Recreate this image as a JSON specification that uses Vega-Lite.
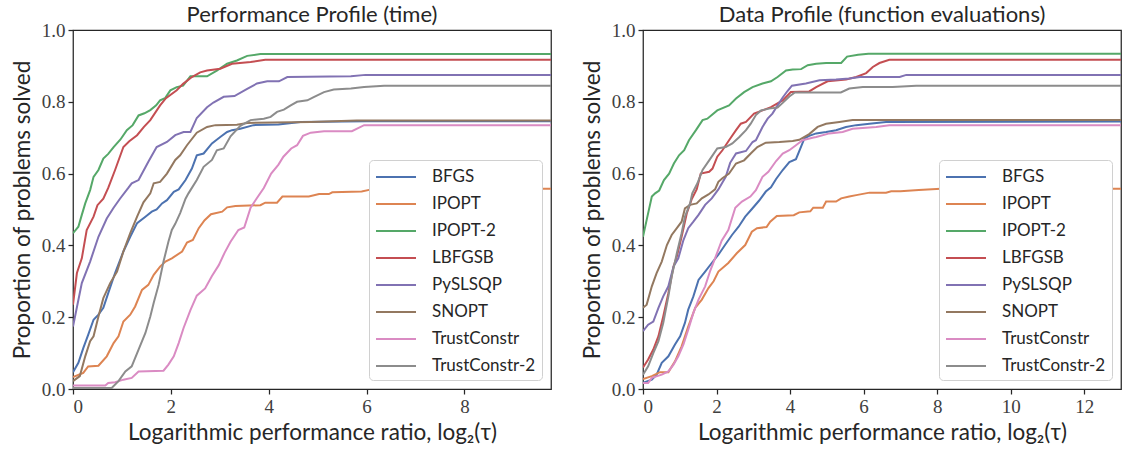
{
"$schema": "https://vega.github.io/schema/vega-lite/v6.json",
"padding": {"left": 10, "top": 3, "right": 4, "bottom": 2},
"background": "white",
"datasets": {
"time": [
{"s":"BFGS","x":0,"y":0.047},{"s":"BFGS","x":0.11,"y":0.073},{"s":"BFGS","x":0.21,"y":0.114},{"s":"BFGS","x":0.31,"y":0.151},{"s":"BFGS","x":0.42,"y":0.193},{"s":"BFGS","x":0.52,"y":0.207},{"s":"BFGS","x":0.62,"y":0.226},{"s":"BFGS","x":0.72,"y":0.267},{"s":"BFGS","x":0.86,"y":0.323},{"s":"BFGS","x":1.03,"y":0.383},{"s":"BFGS","x":1.17,"y":0.424},{"s":"BFGS","x":1.31,"y":0.462},{"s":"BFGS","x":1.48,"y":0.48},{"s":"BFGS","x":1.61,"y":0.494},{"s":"BFGS","x":1.71,"y":0.5},{"s":"BFGS","x":1.82,"y":0.517},{"s":"BFGS","x":1.92,"y":0.526},{"s":"BFGS","x":2.06,"y":0.549},{"s":"BFGS","x":2.16,"y":0.556},{"s":"BFGS","x":2.3,"y":0.582},{"s":"BFGS","x":2.43,"y":0.614},{"s":"BFGS","x":2.53,"y":0.651},{"s":"BFGS","x":2.67,"y":0.656},{"s":"BFGS","x":2.84,"y":0.684},{"s":"BFGS","x":3.01,"y":0.702},{"s":"BFGS","x":3.15,"y":0.716},{"s":"BFGS","x":3.25,"y":0.721},{"s":"BFGS","x":3.42,"y":0.725},{"s":"BFGS","x":3.69,"y":0.735},{"s":"BFGS","x":4.2,"y":0.737},{"s":"BFGS","x":4.65,"y":0.744},{"s":"BFGS","x":6.0,"y":0.746},{"s":"BFGS","x":9.77,"y":0.746},
{"s":"IPOPT","x":0,"y":0.033},{"s":"IPOPT","x":0.21,"y":0.045},{"s":"IPOPT","x":0.31,"y":0.063},{"s":"IPOPT","x":0.52,"y":0.065},{"s":"IPOPT","x":0.69,"y":0.091},{"s":"IPOPT","x":0.83,"y":0.128},{"s":"IPOPT","x":0.93,"y":0.147},{"s":"IPOPT","x":1.03,"y":0.188},{"s":"IPOPT","x":1.17,"y":0.207},{"s":"IPOPT","x":1.27,"y":0.23},{"s":"IPOPT","x":1.41,"y":0.276},{"s":"IPOPT","x":1.54,"y":0.29},{"s":"IPOPT","x":1.65,"y":0.318},{"s":"IPOPT","x":1.78,"y":0.341},{"s":"IPOPT","x":1.89,"y":0.355},{"s":"IPOPT","x":2.02,"y":0.364},{"s":"IPOPT","x":2.23,"y":0.383},{"s":"IPOPT","x":2.33,"y":0.408},{"s":"IPOPT","x":2.45,"y":0.415},{"s":"IPOPT","x":2.57,"y":0.448},{"s":"IPOPT","x":2.69,"y":0.47},{"s":"IPOPT","x":2.82,"y":0.487},{"s":"IPOPT","x":3.05,"y":0.494},{"s":"IPOPT","x":3.15,"y":0.506},{"s":"IPOPT","x":3.32,"y":0.51},{"s":"IPOPT","x":3.83,"y":0.512},{"s":"IPOPT","x":3.93,"y":0.519},{"s":"IPOPT","x":4.17,"y":0.519},{"s":"IPOPT","x":4.28,"y":0.536},{"s":"IPOPT","x":4.82,"y":0.536},{"s":"IPOPT","x":5.03,"y":0.543},{"s":"IPOPT","x":5.23,"y":0.543},{"s":"IPOPT","x":5.3,"y":0.548},{"s":"IPOPT","x":5.9,"y":0.55},{"s":"IPOPT","x":6.1,"y":0.556},{"s":"IPOPT","x":6.5,"y":0.558},{"s":"IPOPT","x":9.77,"y":0.558},
{"s":"IPOPT-2","x":0,"y":0.434},{"s":"IPOPT-2","x":0.11,"y":0.452},{"s":"IPOPT-2","x":0.18,"y":0.485},{"s":"IPOPT-2","x":0.25,"y":0.517},{"s":"IPOPT-2","x":0.35,"y":0.554},{"s":"IPOPT-2","x":0.42,"y":0.591},{"s":"IPOPT-2","x":0.52,"y":0.61},{"s":"IPOPT-2","x":0.62,"y":0.642},{"s":"IPOPT-2","x":0.72,"y":0.655},{"s":"IPOPT-2","x":0.83,"y":0.674},{"s":"IPOPT-2","x":0.97,"y":0.695},{"s":"IPOPT-2","x":1.1,"y":0.721},{"s":"IPOPT-2","x":1.22,"y":0.735},{"s":"IPOPT-2","x":1.34,"y":0.762},{"s":"IPOPT-2","x":1.46,"y":0.768},{"s":"IPOPT-2","x":1.58,"y":0.777},{"s":"IPOPT-2","x":1.7,"y":0.79},{"s":"IPOPT-2","x":1.78,"y":0.804},{"s":"IPOPT-2","x":1.88,"y":0.81},{"s":"IPOPT-2","x":1.99,"y":0.832},{"s":"IPOPT-2","x":2.12,"y":0.841},{"s":"IPOPT-2","x":2.25,"y":0.845},{"s":"IPOPT-2","x":2.4,"y":0.871},{"s":"IPOPT-2","x":2.74,"y":0.871},{"s":"IPOPT-2","x":2.94,"y":0.887},{"s":"IPOPT-2","x":3.15,"y":0.906},{"s":"IPOPT-2","x":3.35,"y":0.915},{"s":"IPOPT-2","x":3.56,"y":0.928},{"s":"IPOPT-2","x":3.83,"y":0.933},{"s":"IPOPT-2","x":9.77,"y":0.933},
{"s":"LBFGSB","x":0,"y":0.235},{"s":"LBFGSB","x":0.08,"y":0.323},{"s":"LBFGSB","x":0.18,"y":0.364},{"s":"LBFGSB","x":0.28,"y":0.443},{"s":"LBFGSB","x":0.42,"y":0.48},{"s":"LBFGSB","x":0.5,"y":0.512},{"s":"LBFGSB","x":0.62,"y":0.53},{"s":"LBFGSB","x":0.72,"y":0.56},{"s":"LBFGSB","x":0.86,"y":0.61},{"s":"LBFGSB","x":1.03,"y":0.674},{"s":"LBFGSB","x":1.15,"y":0.69},{"s":"LBFGSB","x":1.31,"y":0.707},{"s":"LBFGSB","x":1.45,"y":0.73},{"s":"LBFGSB","x":1.58,"y":0.749},{"s":"LBFGSB","x":1.78,"y":0.79},{"s":"LBFGSB","x":1.9,"y":0.81},{"s":"LBFGSB","x":2.12,"y":0.832},{"s":"LBFGSB","x":2.25,"y":0.85},{"s":"LBFGSB","x":2.43,"y":0.869},{"s":"LBFGSB","x":2.6,"y":0.882},{"s":"LBFGSB","x":2.74,"y":0.887},{"s":"LBFGSB","x":3.01,"y":0.892},{"s":"LBFGSB","x":3.25,"y":0.906},{"s":"LBFGSB","x":3.63,"y":0.911},{"s":"LBFGSB","x":3.93,"y":0.917},{"s":"LBFGSB","x":9.77,"y":0.917},
{"s":"PySLSQP","x":0,"y":0.174},{"s":"PySLSQP","x":0.18,"y":0.295},{"s":"PySLSQP","x":0.35,"y":0.355},{"s":"PySLSQP","x":0.52,"y":0.424},{"s":"PySLSQP","x":0.69,"y":0.475},{"s":"PySLSQP","x":0.83,"y":0.505},{"s":"PySLSQP","x":0.96,"y":0.53},{"s":"PySLSQP","x":1.13,"y":0.56},{"s":"PySLSQP","x":1.2,"y":0.573},{"s":"PySLSQP","x":1.34,"y":0.582},{"s":"PySLSQP","x":1.54,"y":0.633},{"s":"PySLSQP","x":1.71,"y":0.674},{"s":"PySLSQP","x":1.92,"y":0.688},{"s":"PySLSQP","x":2.09,"y":0.707},{"s":"PySLSQP","x":2.26,"y":0.716},{"s":"PySLSQP","x":2.4,"y":0.716},{"s":"PySLSQP","x":2.53,"y":0.755},{"s":"PySLSQP","x":2.74,"y":0.785},{"s":"PySLSQP","x":2.87,"y":0.798},{"s":"PySLSQP","x":3.08,"y":0.814},{"s":"PySLSQP","x":3.3,"y":0.816},{"s":"PySLSQP","x":3.56,"y":0.836},{"s":"PySLSQP","x":3.76,"y":0.851},{"s":"PySLSQP","x":3.97,"y":0.857},{"s":"PySLSQP","x":4.21,"y":0.857},{"s":"PySLSQP","x":4.38,"y":0.869},{"s":"PySLSQP","x":5.68,"y":0.871},{"s":"PySLSQP","x":5.98,"y":0.875},{"s":"PySLSQP","x":9.77,"y":0.875},
{"s":"SNOPT","x":0,"y":0.022},{"s":"SNOPT","x":0.14,"y":0.036},{"s":"SNOPT","x":0.25,"y":0.091},{"s":"SNOPT","x":0.35,"y":0.133},{"s":"SNOPT","x":0.42,"y":0.147},{"s":"SNOPT","x":0.52,"y":0.202},{"s":"SNOPT","x":0.62,"y":0.253},{"s":"SNOPT","x":0.76,"y":0.295},{"s":"SNOPT","x":0.9,"y":0.327},{"s":"SNOPT","x":1.03,"y":0.383},{"s":"SNOPT","x":1.17,"y":0.434},{"s":"SNOPT","x":1.31,"y":0.48},{"s":"SNOPT","x":1.44,"y":0.52},{"s":"SNOPT","x":1.58,"y":0.545},{"s":"SNOPT","x":1.65,"y":0.573},{"s":"SNOPT","x":1.78,"y":0.577},{"s":"SNOPT","x":1.92,"y":0.6},{"s":"SNOPT","x":2.09,"y":0.638},{"s":"SNOPT","x":2.19,"y":0.651},{"s":"SNOPT","x":2.33,"y":0.679},{"s":"SNOPT","x":2.53,"y":0.714},{"s":"SNOPT","x":2.74,"y":0.73},{"s":"SNOPT","x":2.91,"y":0.735},{"s":"SNOPT","x":3.35,"y":0.736},{"s":"SNOPT","x":3.56,"y":0.741},{"s":"SNOPT","x":4.86,"y":0.744},{"s":"SNOPT","x":5.8,"y":0.748},{"s":"SNOPT","x":9.77,"y":0.748},
{"s":"TrustConstr","x":0,"y":0.01},{"s":"TrustConstr","x":0.66,"y":0.01},{"s":"TrustConstr","x":0.72,"y":0.017},{"s":"TrustConstr","x":0.86,"y":0.019},{"s":"TrustConstr","x":1.03,"y":0.026},{"s":"TrustConstr","x":1.2,"y":0.031},{"s":"TrustConstr","x":1.34,"y":0.049},{"s":"TrustConstr","x":1.85,"y":0.051},{"s":"TrustConstr","x":1.95,"y":0.068},{"s":"TrustConstr","x":2.06,"y":0.091},{"s":"TrustConstr","x":2.16,"y":0.128},{"s":"TrustConstr","x":2.26,"y":0.17},{"s":"TrustConstr","x":2.4,"y":0.22},{"s":"TrustConstr","x":2.53,"y":0.26},{"s":"TrustConstr","x":2.7,"y":0.28},{"s":"TrustConstr","x":2.84,"y":0.315},{"s":"TrustConstr","x":2.98,"y":0.345},{"s":"TrustConstr","x":3.1,"y":0.38},{"s":"TrustConstr","x":3.22,"y":0.41},{"s":"TrustConstr","x":3.38,"y":0.443},{"s":"TrustConstr","x":3.5,"y":0.45},{"s":"TrustConstr","x":3.63,"y":0.505},{"s":"TrustConstr","x":3.75,"y":0.53},{"s":"TrustConstr","x":3.9,"y":0.56},{"s":"TrustConstr","x":4.05,"y":0.6},{"s":"TrustConstr","x":4.2,"y":0.625},{"s":"TrustConstr","x":4.3,"y":0.647},{"s":"TrustConstr","x":4.46,"y":0.67},{"s":"TrustConstr","x":4.58,"y":0.679},{"s":"TrustConstr","x":4.7,"y":0.705},{"s":"TrustConstr","x":4.86,"y":0.714},{"s":"TrustConstr","x":5.13,"y":0.718},{"s":"TrustConstr","x":5.7,"y":0.718},{"s":"TrustConstr","x":5.95,"y":0.735},{"s":"TrustConstr","x":9.77,"y":0.735},
{"s":"TrustConstr-2","x":0,"y":0.003},{"s":"TrustConstr-2","x":0.79,"y":0.003},{"s":"TrustConstr-2","x":0.93,"y":0.022},{"s":"TrustConstr-2","x":1.07,"y":0.049},{"s":"TrustConstr-2","x":1.2,"y":0.063},{"s":"TrustConstr-2","x":1.34,"y":0.11},{"s":"TrustConstr-2","x":1.48,"y":0.156},{"s":"TrustConstr-2","x":1.58,"y":0.202},{"s":"TrustConstr-2","x":1.65,"y":0.24},{"s":"TrustConstr-2","x":1.75,"y":0.29},{"s":"TrustConstr-2","x":1.85,"y":0.355},{"s":"TrustConstr-2","x":1.95,"y":0.41},{"s":"TrustConstr-2","x":2.02,"y":0.443},{"s":"TrustConstr-2","x":2.09,"y":0.46},{"s":"TrustConstr-2","x":2.19,"y":0.49},{"s":"TrustConstr-2","x":2.3,"y":0.53},{"s":"TrustConstr-2","x":2.36,"y":0.545},{"s":"TrustConstr-2","x":2.53,"y":0.582},{"s":"TrustConstr-2","x":2.67,"y":0.619},{"s":"TrustConstr-2","x":2.84,"y":0.638},{"s":"TrustConstr-2","x":2.94,"y":0.665},{"s":"TrustConstr-2","x":3.08,"y":0.67},{"s":"TrustConstr-2","x":3.22,"y":0.704},{"s":"TrustConstr-2","x":3.42,"y":0.733},{"s":"TrustConstr-2","x":3.63,"y":0.749},{"s":"TrustConstr-2","x":3.9,"y":0.753},{"s":"TrustConstr-2","x":4.04,"y":0.758},{"s":"TrustConstr-2","x":4.17,"y":0.772},{"s":"TrustConstr-2","x":4.31,"y":0.778},{"s":"TrustConstr-2","x":4.45,"y":0.79},{"s":"TrustConstr-2","x":4.58,"y":0.8},{"s":"TrustConstr-2","x":4.79,"y":0.804},{"s":"TrustConstr-2","x":4.92,"y":0.813},{"s":"TrustConstr-2","x":5.13,"y":0.827},{"s":"TrustConstr-2","x":5.33,"y":0.834},{"s":"TrustConstr-2","x":5.68,"y":0.837},{"s":"TrustConstr-2","x":5.95,"y":0.841},{"s":"TrustConstr-2","x":6.36,"y":0.845},{"s":"TrustConstr-2","x":9.77,"y":0.845}
],
"evals": [
{"s":"BFGS","x":0,"y":0.017},{"s":"BFGS","x":0.24,"y":0.026},{"s":"BFGS","x":0.37,"y":0.04},{"s":"BFGS","x":0.51,"y":0.073},{"s":"BFGS","x":0.69,"y":0.091},{"s":"BFGS","x":0.87,"y":0.124},{"s":"BFGS","x":1.01,"y":0.147},{"s":"BFGS","x":1.14,"y":0.184},{"s":"BFGS","x":1.23,"y":0.221},{"s":"BFGS","x":1.37,"y":0.258},{"s":"BFGS","x":1.51,"y":0.304},{"s":"BFGS","x":1.69,"y":0.327},{"s":"BFGS","x":1.87,"y":0.351},{"s":"BFGS","x":2.05,"y":0.374},{"s":"BFGS","x":2.23,"y":0.401},{"s":"BFGS","x":2.42,"y":0.429},{"s":"BFGS","x":2.6,"y":0.452},{"s":"BFGS","x":2.78,"y":0.48},{"s":"BFGS","x":2.95,"y":0.5},{"s":"BFGS","x":3.16,"y":0.525},{"s":"BFGS","x":3.34,"y":0.55},{"s":"BFGS","x":3.48,"y":0.562},{"s":"BFGS","x":3.62,"y":0.585},{"s":"BFGS","x":3.8,"y":0.61},{"s":"BFGS","x":3.98,"y":0.632},{"s":"BFGS","x":4.16,"y":0.64},{"s":"BFGS","x":4.28,"y":0.67},{"s":"BFGS","x":4.39,"y":0.698},{"s":"BFGS","x":4.52,"y":0.705},{"s":"BFGS","x":4.71,"y":0.712},{"s":"BFGS","x":4.98,"y":0.716},{"s":"BFGS","x":5.25,"y":0.721},{"s":"BFGS","x":5.52,"y":0.73},{"s":"BFGS","x":5.8,"y":0.735},{"s":"BFGS","x":6.16,"y":0.739},{"s":"BFGS","x":6.61,"y":0.744},{"s":"BFGS","x":13,"y":0.745},
{"s":"IPOPT","x":0,"y":0.028},{"s":"IPOPT","x":0.24,"y":0.036},{"s":"IPOPT","x":0.46,"y":0.047},{"s":"IPOPT","x":0.69,"y":0.047},{"s":"IPOPT","x":0.87,"y":0.077},{"s":"IPOPT","x":1.05,"y":0.119},{"s":"IPOPT","x":1.23,"y":0.174},{"s":"IPOPT","x":1.42,"y":0.226},{"s":"IPOPT","x":1.6,"y":0.249},{"s":"IPOPT","x":1.78,"y":0.281},{"s":"IPOPT","x":1.92,"y":0.3},{"s":"IPOPT","x":2.05,"y":0.327},{"s":"IPOPT","x":2.32,"y":0.351},{"s":"IPOPT","x":2.55,"y":0.378},{"s":"IPOPT","x":2.78,"y":0.401},{"s":"IPOPT","x":2.96,"y":0.438},{"s":"IPOPT","x":3.1,"y":0.448},{"s":"IPOPT","x":3.36,"y":0.451},{"s":"IPOPT","x":3.46,"y":0.466},{"s":"IPOPT","x":3.64,"y":0.482},{"s":"IPOPT","x":4.1,"y":0.484},{"s":"IPOPT","x":4.25,"y":0.492},{"s":"IPOPT","x":4.55,"y":0.495},{"s":"IPOPT","x":4.63,"y":0.505},{"s":"IPOPT","x":4.89,"y":0.505},{"s":"IPOPT","x":4.98,"y":0.522},{"s":"IPOPT","x":5.25,"y":0.522},{"s":"IPOPT","x":5.39,"y":0.531},{"s":"IPOPT","x":5.61,"y":0.536},{"s":"IPOPT","x":5.8,"y":0.54},{"s":"IPOPT","x":6.16,"y":0.547},{"s":"IPOPT","x":6.61,"y":0.547},{"s":"IPOPT","x":6.75,"y":0.551},{"s":"IPOPT","x":7.0,"y":0.551},{"s":"IPOPT","x":7.5,"y":0.554},{"s":"IPOPT","x":8.1,"y":0.558},{"s":"IPOPT","x":13,"y":0.558},
{"s":"IPOPT-2","x":0,"y":0.424},{"s":"IPOPT-2","x":0.1,"y":0.471},{"s":"IPOPT-2","x":0.24,"y":0.536},{"s":"IPOPT-2","x":0.33,"y":0.545},{"s":"IPOPT-2","x":0.44,"y":0.553},{"s":"IPOPT-2","x":0.57,"y":0.582},{"s":"IPOPT-2","x":0.71,"y":0.6},{"s":"IPOPT-2","x":0.84,"y":0.628},{"s":"IPOPT-2","x":0.98,"y":0.651},{"s":"IPOPT-2","x":1.12,"y":0.665},{"s":"IPOPT-2","x":1.25,"y":0.693},{"s":"IPOPT-2","x":1.44,"y":0.721},{"s":"IPOPT-2","x":1.62,"y":0.749},{"s":"IPOPT-2","x":1.75,"y":0.753},{"s":"IPOPT-2","x":2.02,"y":0.776},{"s":"IPOPT-2","x":2.34,"y":0.79},{"s":"IPOPT-2","x":2.53,"y":0.809},{"s":"IPOPT-2","x":2.75,"y":0.827},{"s":"IPOPT-2","x":2.98,"y":0.841},{"s":"IPOPT-2","x":3.25,"y":0.851},{"s":"IPOPT-2","x":3.48,"y":0.857},{"s":"IPOPT-2","x":3.66,"y":0.869},{"s":"IPOPT-2","x":3.89,"y":0.887},{"s":"IPOPT-2","x":4.07,"y":0.89},{"s":"IPOPT-2","x":4.3,"y":0.891},{"s":"IPOPT-2","x":4.48,"y":0.902},{"s":"IPOPT-2","x":4.71,"y":0.906},{"s":"IPOPT-2","x":4.98,"y":0.908},{"s":"IPOPT-2","x":5.39,"y":0.908},{"s":"IPOPT-2","x":5.55,"y":0.926},{"s":"IPOPT-2","x":5.85,"y":0.931},{"s":"IPOPT-2","x":6.13,"y":0.934},{"s":"IPOPT-2","x":13,"y":0.934},
{"s":"LBFGSB","x":0,"y":0.06},{"s":"LBFGSB","x":0.14,"y":0.082},{"s":"LBFGSB","x":0.28,"y":0.11},{"s":"LBFGSB","x":0.42,"y":0.147},{"s":"LBFGSB","x":0.55,"y":0.202},{"s":"LBFGSB","x":0.69,"y":0.267},{"s":"LBFGSB","x":0.83,"y":0.341},{"s":"LBFGSB","x":0.92,"y":0.369},{"s":"LBFGSB","x":1.05,"y":0.424},{"s":"LBFGSB","x":1.19,"y":0.489},{"s":"LBFGSB","x":1.33,"y":0.53},{"s":"LBFGSB","x":1.46,"y":0.556},{"s":"LBFGSB","x":1.57,"y":0.6},{"s":"LBFGSB","x":1.8,"y":0.605},{"s":"LBFGSB","x":1.89,"y":0.614},{"s":"LBFGSB","x":2.02,"y":0.647},{"s":"LBFGSB","x":2.16,"y":0.665},{"s":"LBFGSB","x":2.34,"y":0.693},{"s":"LBFGSB","x":2.53,"y":0.721},{"s":"LBFGSB","x":2.66,"y":0.739},{"s":"LBFGSB","x":2.8,"y":0.744},{"s":"LBFGSB","x":3.02,"y":0.767},{"s":"LBFGSB","x":3.25,"y":0.776},{"s":"LBFGSB","x":3.48,"y":0.785},{"s":"LBFGSB","x":3.8,"y":0.804},{"s":"LBFGSB","x":4.02,"y":0.827},{"s":"LBFGSB","x":4.52,"y":0.829},{"s":"LBFGSB","x":4.71,"y":0.841},{"s":"LBFGSB","x":5.02,"y":0.857},{"s":"LBFGSB","x":5.52,"y":0.862},{"s":"LBFGSB","x":5.8,"y":0.869},{"s":"LBFGSB","x":6.07,"y":0.88},{"s":"LBFGSB","x":6.25,"y":0.897},{"s":"LBFGSB","x":6.43,"y":0.908},{"s":"LBFGSB","x":6.7,"y":0.917},{"s":"LBFGSB","x":13,"y":0.917},
{"s":"PySLSQP","x":0,"y":0.161},{"s":"PySLSQP","x":0.14,"y":0.179},{"s":"PySLSQP","x":0.28,"y":0.188},{"s":"PySLSQP","x":0.42,"y":0.226},{"s":"PySLSQP","x":0.55,"y":0.258},{"s":"PySLSQP","x":0.69,"y":0.286},{"s":"PySLSQP","x":0.83,"y":0.341},{"s":"PySLSQP","x":0.96,"y":0.364},{"s":"PySLSQP","x":1.1,"y":0.415},{"s":"PySLSQP","x":1.23,"y":0.448},{"s":"PySLSQP","x":1.37,"y":0.466},{"s":"PySLSQP","x":1.51,"y":0.485},{"s":"PySLSQP","x":1.69,"y":0.513},{"s":"PySLSQP","x":1.87,"y":0.531},{"s":"PySLSQP","x":2.05,"y":0.556},{"s":"PySLSQP","x":2.16,"y":0.575},{"s":"PySLSQP","x":2.25,"y":0.591},{"s":"PySLSQP","x":2.37,"y":0.63},{"s":"PySLSQP","x":2.53,"y":0.656},{"s":"PySLSQP","x":2.8,"y":0.663},{"s":"PySLSQP","x":2.98,"y":0.688},{"s":"PySLSQP","x":3.07,"y":0.693},{"s":"PySLSQP","x":3.25,"y":0.73},{"s":"PySLSQP","x":3.39,"y":0.753},{"s":"PySLSQP","x":3.52,"y":0.767},{"s":"PySLSQP","x":3.66,"y":0.79},{"s":"PySLSQP","x":3.8,"y":0.812},{"s":"PySLSQP","x":3.93,"y":0.83},{"s":"PySLSQP","x":4.05,"y":0.845},{"s":"PySLSQP","x":4.43,"y":0.851},{"s":"PySLSQP","x":4.8,"y":0.86},{"s":"PySLSQP","x":5.25,"y":0.862},{"s":"PySLSQP","x":5.61,"y":0.865},{"s":"PySLSQP","x":5.9,"y":0.869},{"s":"PySLSQP","x":6.98,"y":0.869},{"s":"PySLSQP","x":7.16,"y":0.875},{"s":"PySLSQP","x":13,"y":0.875},
{"s":"SNOPT","x":0,"y":0.226},{"s":"SNOPT","x":0.1,"y":0.235},{"s":"SNOPT","x":0.24,"y":0.286},{"s":"SNOPT","x":0.37,"y":0.323},{"s":"SNOPT","x":0.51,"y":0.355},{"s":"SNOPT","x":0.65,"y":0.401},{"s":"SNOPT","x":0.78,"y":0.429},{"s":"SNOPT","x":0.92,"y":0.448},{"s":"SNOPT","x":1.05,"y":0.466},{"s":"SNOPT","x":1.14,"y":0.503},{"s":"SNOPT","x":1.28,"y":0.513},{"s":"SNOPT","x":1.46,"y":0.517},{"s":"SNOPT","x":1.6,"y":0.531},{"s":"SNOPT","x":1.78,"y":0.542},{"s":"SNOPT","x":1.96,"y":0.556},{"s":"SNOPT","x":2.05,"y":0.577},{"s":"SNOPT","x":2.16,"y":0.587},{"s":"SNOPT","x":2.34,"y":0.6},{"s":"SNOPT","x":2.53,"y":0.628},{"s":"SNOPT","x":2.75,"y":0.637},{"s":"SNOPT","x":2.93,"y":0.656},{"s":"SNOPT","x":3.11,"y":0.674},{"s":"SNOPT","x":3.34,"y":0.686},{"s":"SNOPT","x":3.71,"y":0.688},{"s":"SNOPT","x":4.07,"y":0.691},{"s":"SNOPT","x":4.25,"y":0.694},{"s":"SNOPT","x":4.52,"y":0.71},{"s":"SNOPT","x":4.75,"y":0.73},{"s":"SNOPT","x":4.98,"y":0.739},{"s":"SNOPT","x":5.34,"y":0.744},{"s":"SNOPT","x":5.7,"y":0.749},{"s":"SNOPT","x":13,"y":0.749},
{"s":"TrustConstr","x":0,"y":0.017},{"s":"TrustConstr","x":0.14,"y":0.017},{"s":"TrustConstr","x":0.24,"y":0.031},{"s":"TrustConstr","x":0.51,"y":0.04},{"s":"TrustConstr","x":0.69,"y":0.049},{"s":"TrustConstr","x":0.83,"y":0.068},{"s":"TrustConstr","x":0.96,"y":0.091},{"s":"TrustConstr","x":1.1,"y":0.124},{"s":"TrustConstr","x":1.23,"y":0.165},{"s":"TrustConstr","x":1.37,"y":0.212},{"s":"TrustConstr","x":1.51,"y":0.249},{"s":"TrustConstr","x":1.69,"y":0.286},{"s":"TrustConstr","x":1.83,"y":0.33},{"s":"TrustConstr","x":1.96,"y":0.364},{"s":"TrustConstr","x":2.14,"y":0.413},{"s":"TrustConstr","x":2.32,"y":0.443},{"s":"TrustConstr","x":2.51,"y":0.505},{"s":"TrustConstr","x":2.69,"y":0.522},{"s":"TrustConstr","x":2.92,"y":0.536},{"s":"TrustConstr","x":3.07,"y":0.554},{"s":"TrustConstr","x":3.25,"y":0.591},{"s":"TrustConstr","x":3.41,"y":0.605},{"s":"TrustConstr","x":3.62,"y":0.635},{"s":"TrustConstr","x":3.8,"y":0.656},{"s":"TrustConstr","x":3.98,"y":0.665},{"s":"TrustConstr","x":4.16,"y":0.679},{"s":"TrustConstr","x":4.34,"y":0.693},{"s":"TrustConstr","x":4.61,"y":0.7},{"s":"TrustConstr","x":4.71,"y":0.702},{"s":"TrustConstr","x":5.07,"y":0.712},{"s":"TrustConstr","x":5.43,"y":0.716},{"s":"TrustConstr","x":5.7,"y":0.725},{"s":"TrustConstr","x":6.34,"y":0.73},{"s":"TrustConstr","x":6.7,"y":0.735},{"s":"TrustConstr","x":13,"y":0.735},
{"s":"TrustConstr-2","x":0,"y":0.04},{"s":"TrustConstr-2","x":0.14,"y":0.063},{"s":"TrustConstr-2","x":0.28,"y":0.1},{"s":"TrustConstr-2","x":0.42,"y":0.133},{"s":"TrustConstr-2","x":0.55,"y":0.184},{"s":"TrustConstr-2","x":0.69,"y":0.258},{"s":"TrustConstr-2","x":0.78,"y":0.313},{"s":"TrustConstr-2","x":0.92,"y":0.378},{"s":"TrustConstr-2","x":1.05,"y":0.434},{"s":"TrustConstr-2","x":1.14,"y":0.48},{"s":"TrustConstr-2","x":1.28,"y":0.517},{"s":"TrustConstr-2","x":1.34,"y":0.545},{"s":"TrustConstr-2","x":1.48,"y":0.573},{"s":"TrustConstr-2","x":1.62,"y":0.61},{"s":"TrustConstr-2","x":1.8,"y":0.637},{"s":"TrustConstr-2","x":2.02,"y":0.67},{"s":"TrustConstr-2","x":2.25,"y":0.674},{"s":"TrustConstr-2","x":2.43,"y":0.684},{"s":"TrustConstr-2","x":2.62,"y":0.702},{"s":"TrustConstr-2","x":2.8,"y":0.721},{"s":"TrustConstr-2","x":2.93,"y":0.739},{"s":"TrustConstr-2","x":3.07,"y":0.763},{"s":"TrustConstr-2","x":3.21,"y":0.776},{"s":"TrustConstr-2","x":3.43,"y":0.781},{"s":"TrustConstr-2","x":3.66,"y":0.784},{"s":"TrustConstr-2","x":3.8,"y":0.797},{"s":"TrustConstr-2","x":3.98,"y":0.815},{"s":"TrustConstr-2","x":4.13,"y":0.826},{"s":"TrustConstr-2","x":5.38,"y":0.826},{"s":"TrustConstr-2","x":5.61,"y":0.837},{"s":"TrustConstr-2","x":5.98,"y":0.841},{"s":"TrustConstr-2","x":6.79,"y":0.841},{"s":"TrustConstr-2","x":7.43,"y":0.845},{"s":"TrustConstr-2","x":13,"y":0.845}
]
},
"hconcat": [
{
"title": "Performance Profile (time)",
"width": 478, "height": 359,
"data": {"name": "time"},
"mark": {"type": "line", "strokeWidth": 2, "clip": true},
"encoding": {
"x": {"field": "x", "type": "quantitative", "scale": {"domain": [0, 9.77], "nice": false, "zero": false}, "axis": {"values": [0, 2, 4, 6, 8], "format": "d", "title": "Logarithmic performance ratio, log₂(τ)"}},
"y": {"field": "y", "type": "quantitative", "scale": {"domain": [0, 1], "nice": false}, "axis": {"values": [0, 0.2, 0.4, 0.6, 0.8, 1.0], "format": ".1f", "title": "Proportion of problems solved"}},
"color": {"field": "s", "type": "nominal", "scale": {"domain": ["BFGS","IPOPT","IPOPT-2","LBFGSB","PySLSQP","SNOPT","TrustConstr","TrustConstr-2"], "range": ["#4C72B0","#DD8452","#55A868","#C44E52","#8172B3","#937860","#DA8BC3","#8C8C8C"]}, "legend": {"title": null}}
}
},
{
"title": "Data Profile (function evaluations)",
"width": 478, "height": 359,
"data": {"name": "evals"},
"mark": {"type": "line", "strokeWidth": 2, "clip": true},
"encoding": {
"x": {"field": "x", "type": "quantitative", "scale": {"domain": [0, 13], "nice": false, "zero": false}, "axis": {"values": [0, 2, 4, 6, 8, 10, 12], "format": "d", "title": "Logarithmic performance ratio, log₂(τ)"}},
"y": {"field": "y", "type": "quantitative", "scale": {"domain": [0, 1], "nice": false}, "axis": {"values": [0, 0.2, 0.4, 0.6, 0.8, 1.0], "format": ".1f", "title": "Proportion of problems solved"}},
"color": {"field": "s", "type": "nominal", "scale": {"domain": ["BFGS","IPOPT","IPOPT-2","LBFGSB","PySLSQP","SNOPT","TrustConstr","TrustConstr-2"], "range": ["#4C72B0","#DD8452","#55A868","#C44E52","#8172B3","#937860","#DA8BC3","#8C8C8C"]}, "legend": {"title": null}}
}
}
],
"spacing": 28,
"resolve": {"scale": {"color": "independent"}, "legend": {"color": "independent"}},
"config": {
"view": {"stroke": "#262626", "strokeWidth": 1.25},
"axis": {"domain": false, "grid": false, "ticks": true, "tickColor": "#262626", "tickSize": 5, "tickWidth": 1.25, "labelFont": "Liberation Serif", "labelFontSize": 19, "labelColor": "#404040", "labelPadding": 3, "titleFont": "Lato", "titleFontSize": 22.5, "titleFontWeight": "normal", "titleColor": "#262626"},
"axisY": {"titlePadding": 7},
"axisX": {"titlePadding": 5},
"title": {"font": "Lato", "fontSize": 22, "fontWeight": "normal", "color": "#262626", "offset": -6, "baseline": "bottom"},
"legend": {"orient": "bottom-right", "offset": 9, "fillColor": "white", "strokeColor": "#d0d0d0", "cornerRadius": 4, "padding": 6, "labelFont": "Lato", "labelFontSize": 17, "labelColor": "#262626", "symbolType": "M-2,0H2", "symbolSize": 400, "symbolStrokeWidth": 2, "symbolOffset": 10, "labelOffset": 25, "rowPadding": 8}
}
}
